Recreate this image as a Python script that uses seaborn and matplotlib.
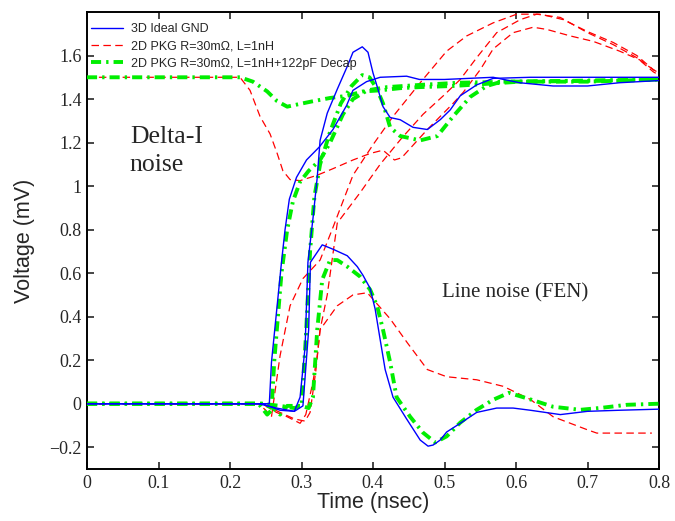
import matplotlib
matplotlib.use("Agg")
import matplotlib.pyplot as plt
import seaborn as sns

# ---- data (time in nsec, voltage in mV) ----
blue_rise1_t = [0, 0.245, 0.255, 0.258, 0.272, 0.277, 0.283, 0.293, 0.307, 0.325, 0.344, 0.363, 0.372,
                0.391, 0.41, 0.447, 0.465, 0.5, 0.568, 0.605, 0.652, 0.7, 0.745, 0.8]
blue_rise1_v = [0, 0, 0.0, 0.19, 0.65, 0.80, 0.94, 1.04, 1.12, 1.18, 1.26, 1.37, 1.44,
                1.48, 1.50, 1.505, 1.49, 1.49, 1.50, 1.475, 1.46, 1.46, 1.475, 1.485]

blue_rise2_t = [0, 0.24, 0.265, 0.29, 0.298, 0.305, 0.309, 0.316, 0.322, 0.326, 0.336, 0.35, 0.364, 0.372,
                0.385, 0.393, 0.40, 0.407, 0.414, 0.424, 0.438, 0.456, 0.476, 0.494, 0.508, 0.522,
                0.545, 0.568, 0.62, 0.8]
blue_rise2_v = [0, 0, -0.02, -0.035, 0.03, 0.26, 0.65, 0.85, 1.04, 1.21, 1.335, 1.445, 1.55, 1.615,
                1.64, 1.615, 1.52, 1.445, 1.365, 1.315, 1.305, 1.27, 1.26, 1.305, 1.35, 1.415,
                1.465, 1.495, 1.50, 1.50]

blue_fen_t = [0, 0.245, 0.27, 0.29, 0.302, 0.31, 0.3125, 0.329, 0.344, 0.364, 0.378, 0.386, 0.396, 0.403,
              0.41, 0.417, 0.428, 0.447, 0.466, 0.477, 0.484, 0.494, 0.503, 0.522, 0.545, 0.573,
              0.596, 0.62, 0.662, 0.70, 0.745, 0.8]
blue_fen_v = [0, 0, -0.03, -0.035, -0.01, 0.34, 0.65, 0.73, 0.71, 0.68, 0.63, 0.59, 0.53, 0.435,
              0.295, 0.157, 0.03, -0.07, -0.167, -0.195, -0.19, -0.167, -0.13, -0.09, -0.04, -0.02,
              -0.02, -0.03, -0.05, -0.035, -0.03, -0.025]

red_di_t = [0, 0.214, 0.228, 0.242, 0.256, 0.266, 0.274, 0.284, 0.298, 0.322, 0.344, 0.372, 0.396, 0.414,
            0.43, 0.44, 0.476, 0.512, 0.526, 0.55, 0.568, 0.596, 0.624, 0.643, 0.676, 0.708, 0.745,
            0.773, 0.792, 0.8]
red_di_v = [1.5, 1.5, 1.44, 1.32, 1.24, 1.15, 1.07, 1.03, 1.025, 1.05, 1.08, 1.12, 1.15, 1.165,
            1.12, 1.13, 1.26, 1.38, 1.43, 1.535, 1.63, 1.705, 1.73, 1.72, 1.69, 1.665, 1.62,
            1.58, 1.535, 1.52]

red_rise1_t = [0, 0.24, 0.25, 0.258, 0.27, 0.284, 0.302, 0.326, 0.344, 0.372, 0.4, 0.428, 0.466, 0.503,
               0.531, 0.568, 0.601, 0.634, 0.666, 0.70, 0.736, 0.769, 0.792, 0.8]
red_rise1_v = [0, 0, -0.03, -0.06, 0.22, 0.45, 0.575, 0.66, 0.81, 1.05, 1.19, 1.32, 1.475, 1.62,
               1.69, 1.75, 1.79, 1.79, 1.765, 1.71, 1.66, 1.60, 1.535, 1.52]

red_rise2_t = [0, 0.245, 0.265, 0.28, 0.298, 0.306, 0.316, 0.322, 0.326, 0.336, 0.35, 0.382, 0.41, 0.44,
               0.47, 0.5, 0.522, 0.545, 0.573, 0.606, 0.629, 0.662, 0.70, 0.736, 0.769, 0.792, 0.8]
red_rise2_v = [0, 0, -0.04, -0.06, -0.09, -0.05, 0.10, 0.22, 0.34, 0.50, 0.83, 0.97, 1.1, 1.22,
               1.33, 1.42, 1.49, 1.59, 1.705, 1.765, 1.79, 1.775, 1.705, 1.65, 1.59, 1.525, 1.51]

red_fen_t = [0, 0.245, 0.27, 0.29, 0.305, 0.312, 0.32, 0.326, 0.35, 0.372, 0.392, 0.424, 0.448, 0.476,
             0.503, 0.545, 0.582, 0.62, 0.652, 0.70, 0.713, 0.79]
red_fen_v = [0, 0, -0.04, -0.07, -0.08, -0.04, 0.15, 0.34, 0.45, 0.50, 0.51, 0.39, 0.28, 0.157,
             0.124, 0.11, 0.08, 0.02, -0.06, -0.12, -0.135, -0.135]

green_di_t = [0, 0.214, 0.232, 0.252, 0.266, 0.28, 0.294, 0.316, 0.34, 0.364, 0.386, 0.41, 0.438, 0.466,
              0.512, 0.559, 0.606, 0.745, 0.8]
green_di_v = [1.5, 1.5, 1.48, 1.435, 1.39, 1.365, 1.375, 1.39, 1.405, 1.415, 1.435, 1.44, 1.45, 1.455,
              1.46, 1.47, 1.48, 1.485, 1.49]

green_rise1_t = [0, 0.24, 0.252, 0.258, 0.262, 0.272, 0.28, 0.288, 0.298, 0.31, 0.326, 0.34, 0.358,
                 0.372, 0.392, 0.42, 0.466, 0.52, 0.6, 0.8]
green_rise1_v = [0, 0, -0.05, -0.03, 0.2, 0.6, 0.8, 0.93, 1.02, 1.07, 1.12, 1.2, 1.33,
                 1.4, 1.44, 1.455, 1.465, 1.475, 1.48, 1.49]

green_rise2_t = [0, 0.245, 0.27, 0.29, 0.3, 0.306, 0.312, 0.318, 0.326, 0.34, 0.355, 0.37, 0.385, 0.395,
                 0.405, 0.414, 0.424, 0.438, 0.466, 0.49, 0.512, 0.536, 0.559, 0.58, 0.7, 0.8]
green_rise2_v = [0, 0, -0.01, -0.02, -0.01, 0.3, 0.7, 0.95, 1.1, 1.25, 1.38, 1.46, 1.51, 1.5,
                 1.45, 1.38, 1.27, 1.23, 1.21, 1.23, 1.32, 1.41, 1.46, 1.48, 1.48, 1.49]

green_fen_t = [0, 0.245, 0.26, 0.27, 0.28, 0.3, 0.31, 0.316, 0.322, 0.329, 0.34, 0.35, 0.364, 0.382,
               0.396, 0.406, 0.414, 0.424, 0.433, 0.452, 0.47, 0.487, 0.503, 0.522, 0.545, 0.568,
               0.59, 0.62, 0.652, 0.69, 0.722, 0.755, 0.8]
green_fen_v = [0, 0, -0.02, -0.05, -0.01, -0.01, -0.02, 0.03, 0.34, 0.57, 0.66, 0.66, 0.63, 0.584,
               0.524, 0.446, 0.34, 0.19, 0.03, -0.06, -0.133, -0.178, -0.15, -0.087, -0.028, 0.018,
               0.05, 0.02, -0.014, -0.028, -0.018, -0.005, 0.0]

labels = ["3D Ideal GND", "2D PKG R=30m\u03a9, L=1nH", "2D PKG R=30m\u03a9, L=1nH+122pF Decap"]
x_ticks = [0, 0.1, 0.2, 0.3, 0.4, 0.5, 0.6, 0.7, 0.8]
x_ticklabels = ["0", "0.1", "0.2", "0.3", "0.4", "0.5", "0.6", "0.7", "0.8"]
y_ticks = [-0.2, 0, 0.2, 0.4, 0.6, 0.8, 1.0, 1.2, 1.4, 1.6]
y_ticklabels = ["\u22120.2", "0", "0.2", "0.4", "0.6", "0.8", "1", "1.2", "1.4", "1.6"]

sns.set_style("ticks")
plt.rcParams["font.family"] = ["Liberation Sans", "DejaVu Sans"]

fig, ax = plt.subplots(figsize=(6.75, 5.21), dpi=100)
fig.subplots_adjust(left=87 / 675, right=659 / 675, bottom=(521 - 469) / 521, top=(521 - 12) / 521)

red_style = dict(color="#ff0000", linewidth=0.9, linestyle=(0, (6, 3.5)), zorder=2)
green_style = dict(color="#00ee00", linewidth=2.8, linestyle=(0, (2.6, 1.3, 0.6, 1.3)), zorder=3)
blue_style = dict(color="#0000ff", linewidth=1.0, linestyle="-", zorder=4)

curves = [
    (blue_rise1_t, blue_rise1_v, blue_style, labels[0]),
    (blue_rise2_t, blue_rise2_v, blue_style, None),
    (blue_fen_t, blue_fen_v, blue_style, None),
    (red_di_t, red_di_v, red_style, labels[1]),
    (red_rise1_t, red_rise1_v, red_style, None),
    (red_rise2_t, red_rise2_v, red_style, None),
    (red_fen_t, red_fen_v, red_style, None),
    (green_di_t, green_di_v, green_style, labels[2]),
    (green_rise1_t, green_rise1_v, green_style, None),
    (green_rise2_t, green_rise2_v, green_style, None),
    (green_fen_t, green_fen_v, green_style, None),
]
for t, v, style, lbl in curves:
    sns.lineplot(x=t, y=v, ax=ax, sort=False, estimator=None, label=lbl, **style)

ax.set_xlim(0, 0.8)
ax.set_ylim(-0.3, 1.8)
ax.set_xticks(x_ticks)
ax.set_xticklabels(x_ticklabels, family="Liberation Serif", fontsize=13)
ax.set_yticks(y_ticks)
ax.set_yticklabels(y_ticklabels, family="Liberation Serif", fontsize=13)
ax.tick_params(direction="in", top=True, right=True, length=5, width=1.2, pad=4)
for s in ax.spines.values():
    s.set_linewidth(1.4)
    s.set_color("black")

ax.set_xlabel("Time (nsec)", fontsize=15.5, labelpad=0)
ax.set_ylabel("Voltage (mV)", fontsize=15.5, labelpad=10)

ax.text(0.06, 1.275, "Delta-I\nnoise", family="Liberation Serif", fontsize=18.5,
        va="top", ha="left", linespacing=1.35)
ax.text(0.497, 0.51, "Line noise (FEN)", family="Liberation Serif", fontsize=15,
        va="center", ha="left")

handles, lbls = ax.get_legend_handles_labels()
ax.legend(handles, lbls, loc="upper left", bbox_to_anchor=(-0.009, 0.995), frameon=False,
          fontsize=9, handlelength=2.6, handletextpad=0.6, labelspacing=0.42, borderpad=0.2)

fig.savefig("out.png", dpi=100)
